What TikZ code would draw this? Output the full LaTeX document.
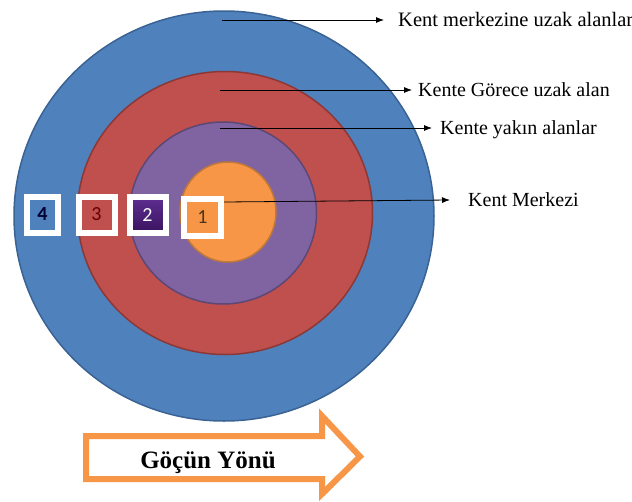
\documentclass[tikz,border=0pt]{standalone}
\usepackage{fontspec}
\setmainfont{Liberation Serif}
\newfontfamily\boxfont{Carlito}
\usetikzlibrary{shapes.geometric,arrows.meta}
\definecolor{ringblue}{HTML}{4F81BD}
\definecolor{ringblueline}{HTML}{3A6394}
\definecolor{ringred}{HTML}{C0504D}
\definecolor{ringredline}{HTML}{8C3836}
\definecolor{ringpurple}{HTML}{8064A2}
\definecolor{ringpurpleline}{HTML}{5C4776}
\definecolor{ringorange}{HTML}{F79646}
\definecolor{ringorangeline}{HTML}{C0783A}
\definecolor{boxpurpletop}{HTML}{5E2E92}
\definecolor{boxpurplebottom}{HTML}{3A135E}
\tikzstyle{ring} = [ellipse, line width=1.5pt, inner sep=0pt]
\tikzstyle{numbox} = [draw=white, line width=6pt, inner sep=0pt, font=\boxfont\fontsize{20}{20}\selectfont]
\tikzstyle{zonetext} = [anchor=west, inner sep=0pt, text height=13.2pt, text depth=0pt, font=\fontsize{20}{24}\selectfont]
\tikzstyle{pointer} = [-{Latex[length=8pt,width=6pt]}, line width=0.8pt]
\tikzstyle{flowline} = [draw=ringorange, line width=6pt, fill=white, line join=miter]
\tikzstyle{flowtext} = [inner sep=0pt, text height=16.5pt, text depth=0pt, font=\bfseries\fontsize{25}{30}\selectfont]

\begin{document}
\begin{tikzpicture}[x=1pt,y=-1pt]
  \useasboundingbox (0,0) rectangle (632,501);
  \node (r4) at (224,216) [ring, draw=ringblueline, fill=ringblue, minimum width=420pt, minimum height=410pt] {};
  \node (r3) at (225,213) [ring, draw=ringredline, fill=ringred, minimum width=295pt, minimum height=283pt] {};
  \node (r2) at (223,213) [ring, draw=ringpurpleline, fill=ringpurple, minimum width=187pt, minimum height=182pt] {};
  \node (r1) at (228,212) [ring, draw=ringorangeline, fill=ringorange, minimum width=96pt, minimum height=100pt] {};
  \node (n4) at (42.5,214.5) [numbox, fill=ringblue, minimum width=31pt, minimum height=36pt, text=black!80!blue] {\textbf{4}};
  \node (n3) at (96.5,214.5) [numbox, fill=ringred, minimum width=36pt, minimum height=36pt, text=red!40!black] {3};
  \node (n2) at (147.5,215) [numbox, top color=boxpurpletop, bottom color=boxpurplebottom, minimum width=36pt, minimum height=36pt, text=white] {2};
  \node (n1) at (202.5,217.5) [numbox, fill=ringorange, minimum width=37pt, minimum height=37pt, text=brown!40!black] {1};
  \coordinate (s4) at (222,20);
  \coordinate (s3) at (220,90);
  \coordinate (s2) at (220,128);
  \node (t4) at (398,20) [zonetext, font=\fontsize{20.5}{24}\selectfont] {Kent merkezine uzak alanlar};
  \node (t3) at (418,90) [zonetext] {Kente Görece uzak alan};
  \node (t2) at (440,128) [zonetext] {Kente yakın alanlar};
  \node (t1) at (468,200) [zonetext] {Kent Merkezi};
  \draw [pointer] (s4) to ([xshift=-14pt]t4.west);
  \draw [pointer] (s3) to ([xshift=-6pt]t3.west);
  \draw [pointer] (s2) to ([xshift=-8pt]t2.west);
  \draw [pointer] ([yshift=15.5pt]n1.east) to ([xshift=-18pt]t1.west);
  \draw [flowline] (86,436) -- (322,436) -- (322,416) -- (360,456.5) -- (322,494) -- (322,479) -- (86,479) -- cycle;
  \node (flow) at (208,460) [flowtext] {Göçün Yönü};
\end{tikzpicture}
\end{document}
